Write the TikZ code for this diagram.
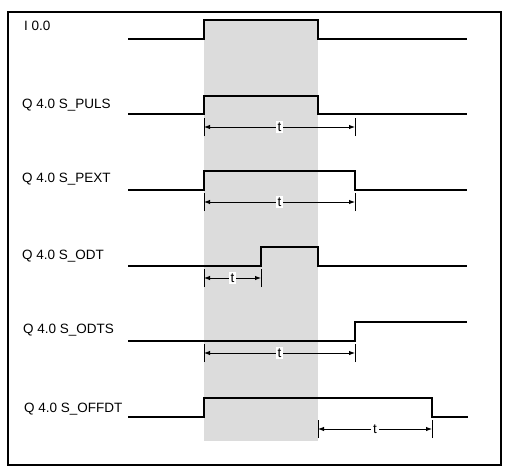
\documentclass[tikz,border=0pt]{standalone}
\usepackage{fontspec}
\setmainfont{Liberation Sans}
\usepackage{xcolor}
\usetikzlibrary{arrows.meta}
\definecolor{shadegray}{RGB}{220,220,220}
\tikzset{
  % Rahmen und Signalverlauf
  frameline/.style = {line width=1.2pt, draw=black},
  sigline/.style   = {line width=1.3pt, draw=black},
  % Zeitmass t
  timeline/.style  = {{Latex[length=6pt,width=4.5pt]}-{Latex[length=6pt,width=4.5pt]}, line width=0.9pt},
  tickline/.style  = {line width=0.9pt},
  tlab/.style      = {fill=white, font=\fontsize{13.5}{15}\selectfont, inner sep=2pt},
  % Beschriftungen
  siglab/.style    = {anchor=base west, inner sep=0pt, font=\fontsize{13.5}{15}\selectfont},
}

\begin{document}
\begin{tikzpicture}[x=1pt, y=-1pt]
  \useasboundingbox (0,0) rectangle (512,475);
  \fill[shadegray] (204,20) rectangle (318,441);
  \draw[frameline] (8,12) rectangle (501,465);

  % Signalnamen
  \node[siglab] (labI)    at (24,30.7)  {I 0.0};
  \node[siglab] (labPuls) at (22,108.7) {Q 4.0 S\_PULS};
  \node[siglab] (labPext) at (22,182.7) {Q 4.0 S\_PEXT};
  \node[siglab] (labOdt)  at (22,259.3) {Q 4.0 S\_ODT};
  \node[siglab] (labOdts) at (23,333.7) {Q 4.0 S\_ODTS};
  \node[siglab] (labOff)  at (24,412.7) {Q 4.0 S\_OFFDT};

  % Impulsdiagramme
  \draw[sigline] (128,39)  -- (204,39)  -- (204,20)  -- (318,20)  -- (318,39)  -- (467,39);
  \draw[sigline] (128,114) -- (204,114) -- (204,96)  -- (318,96)  -- (318,114) -- (467,114);
  \draw[sigline] (128,190) -- (204,190) -- (204,171) -- (355,171) -- (355,190) -- (467,190);
  \draw[sigline] (128,266) -- (261,266) -- (261,247) -- (318,247) -- (318,266) -- (467,266);
  \draw[sigline] (128,341) -- (355,341) -- (355,322) -- (467,322);
  \draw[sigline] (128,417) -- (204,417) -- (204,398) -- (432,398) -- (432,417) -- (468,417);

  % Zeitmasse
  \foreach \y/\a/\b [count=\i] in {127/204/355, 202/204/355, 278/204/261, 353/204/355, 429/318/432} {
    \coordinate (ta\i) at (\a,\y);
    \coordinate (tb\i) at (\b,\y);
    \draw[tickline] ([yshift=-9pt]ta\i) -- ([yshift=9pt]ta\i);
    \draw[tickline] ([yshift=-9pt]tb\i) -- ([yshift=9pt]tb\i);
    \draw[timeline] (ta\i) -- (tb\i) node[midway, tlab] (t\i) {t};
  }
\end{tikzpicture}
\end{document}
